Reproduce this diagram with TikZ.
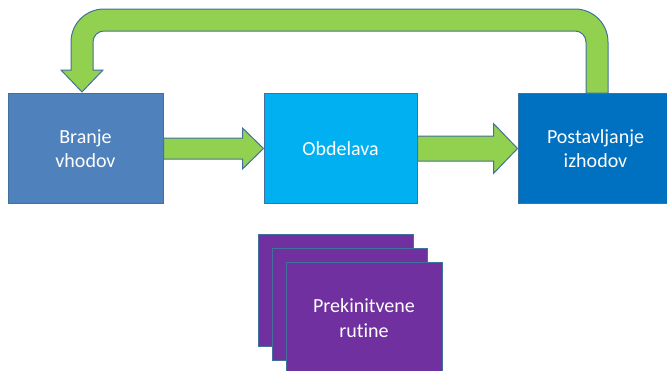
\documentclass[tikz,border=0pt]{standalone}
\usepackage{fontspec}
\setmainfont{Carlito}[Ligatures=NoCommon]
\usetikzlibrary{calc}
\definecolor{edge}{HTML}{41719C}
\definecolor{leaf}{HTML}{92D050}
\definecolor{steel}{HTML}{4F81BD}
\definecolor{sky}{HTML}{00B0F0}
\definecolor{ocean}{HTML}{0070C0}
\definecolor{plum}{HTML}{7030A0}
\tikzset{
  stagebox/.style={draw=edge, line width=1pt, minimum width=155pt, minimum height=110pt,
    inner sep=0pt, align=center, text=white, font=\fontsize{20}{24}\selectfont},
  blockarrow/.style={draw=edge, line width=1pt, fill=leaf, line join=miter},
}
\begin{document}
\begin{tikzpicture}[x=1pt,y=-1pt]
\useasboundingbox (0,0) rectangle (667,370);
\clip (0,0) rectangle (667,370);

% feedback arrow from the output stage back to the input stage
\coordinate (fbTail) at (597,93);
\coordinate (fbTip) at (82,92);
\draw[blockarrow]
  ($(fbTail)+(11,0)$) -- (608,42) arc(0:-90:33) -- (104,9) arc(-90:-180:33)
  -- (71,70) -- (61,70) -- (fbTip) -- (103,70) -- (93,70)
  -- (93,42) arc(180:270:11) -- (575,31) arc(270:360:11)
  -- ($(fbTail)+(-11,0)$) -- cycle;

% main stages
\node[stagebox, fill=steel] (read) at (85.5,148.5) {Branje\\vhodov};
\node[stagebox, fill=sky, minimum width=153pt] (proc) at (340.5,148.5) {Obdelava};
\node[stagebox, fill=ocean] (write) at (595.5,148.5) {Postavljanje\\izhodov};

% forward arrows
\draw[blockarrow]
  ($(read.east)+(0,-10.5)$) -- ($(proc.west)+(-21,-10.5)$) -- ($(proc.west)+(-21,-20.5)$)
  -- (proc.west) -- ($(proc.west)+(-21,20.5)$) -- ($(proc.west)+(-21,10.5)$)
  -- ($(read.east)+(0,10.5)$) -- cycle;
\draw[blockarrow]
  ($(proc.east)+(0,-12.5)$) -- ($(write.west)+(-24,-12.5)$) -- ($(write.west)+(-24,-25)$)
  -- (write.west) -- ($(write.west)+(-24,25)$) -- ($(write.west)+(-24,12.5)$)
  -- ($(proc.east)+(0,12.5)$) -- cycle;

% stacked interrupt routines
\node[stagebox, fill=plum, minimum height=112pt] (isr3) at (335.5,290) {};
\node[stagebox, fill=plum, minimum height=112pt] (isr2) at (349.5,304) {};
\node[stagebox, fill=plum, minimum height=120pt, minimum width=156pt, anchor=north] (isr1) at (364,262) {};
\node[text=white, align=center, font=\fontsize{20}{25}\selectfont] (isrlabel) at (364,318) {Prekinitvene\\rutine};
\end{tikzpicture}
\end{document}
